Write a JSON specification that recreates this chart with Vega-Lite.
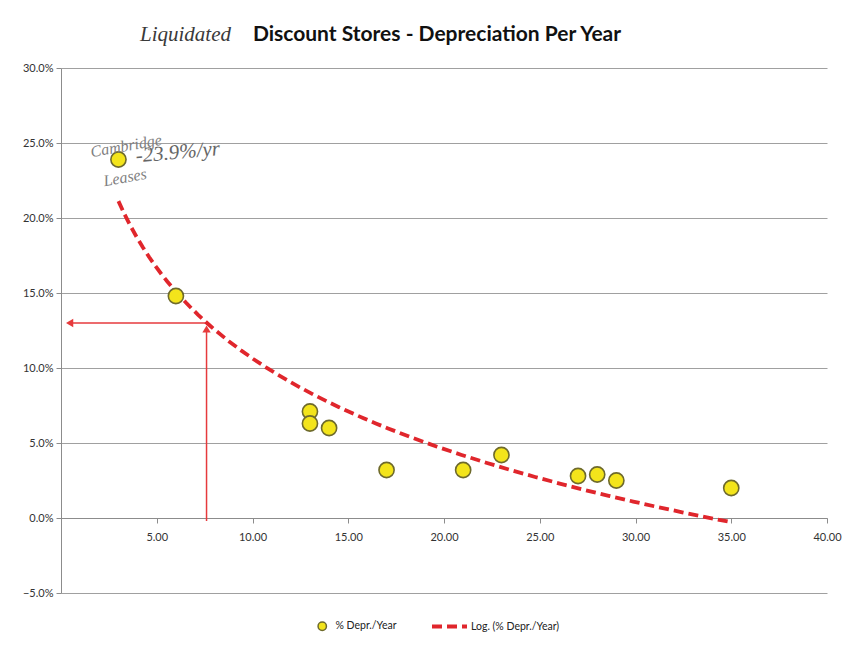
{
  "$schema": "https://vega.github.io/schema/vega-lite/v6.json",
  "width": 766,
  "height": 525,
  "autosize": "none",
  "padding": {"left": 61, "top": 68, "right": 19, "bottom": 57},
  "background": "white",
  "title": {
    "text": "Discount Stores - Depreciation Per Year",
    "font": "Lato",
    "fontSize": 21,
    "fontWeight": "bold",
    "color": "#111111",
    "anchor": "middle",
    "offset": 14,
    "dx": -7,
    "dy": 35
  },
  "datasets": {
    "stores": [
      {"age": 3, "depr": 0.239},
      {"age": 6, "depr": 0.148},
      {"age": 13, "depr": 0.071},
      {"age": 13, "depr": 0.063},
      {"age": 14, "depr": 0.060},
      {"age": 17, "depr": 0.032},
      {"age": 21, "depr": 0.032},
      {"age": 23, "depr": 0.042},
      {"age": 27, "depr": 0.028},
      {"age": 28, "depr": 0.029},
      {"age": 29, "depr": 0.025},
      {"age": 35, "depr": 0.020}
    ],
    "arrows": [
      {"age": 7.6, "depr": 0.13, "age2": 0.45, "depr2": 0.13, "tip": "left"},
      {"age": 7.6, "depr": -0.002, "age2": 7.6, "depr2": 0.126, "tip": "up"}
    ],
    "notes": [
      {"age": 6.5, "depr": 0.322, "text": "Liquidated", "kind": "title"},
      {"age": 3.4, "depr": 0.248, "text": "Cambridge", "kind": "point"},
      {"age": 6.1, "depr": 0.2435, "text": "-23.9%/yr", "kind": "big"},
      {"age": 3.35, "depr": 0.227, "text": "Leases", "kind": "point"}
    ]
  },
  "layer": [
    {
      "data": {"name": "arrows"},
      "mark": {"type": "rule", "color": "#e63a3c", "strokeWidth": 1.5},
      "encoding": {
        "x": {
          "field": "age",
          "type": "quantitative",
          "scale": {"domain": [0, 40], "nice": false, "zero": false},
          "axis": {
            "title": null,
            "values": [5, 10, 15, 20, 25, 30, 35, 40],
            "format": ".2f",
            "grid": false,
            "offset": -75,
            "tickSize": 5,
            "labelPadding": 8,
            "labelFlush": false
          }
        },
        "y": {
          "field": "depr",
          "type": "quantitative",
          "scale": {"domain": [-0.05, 0.30], "nice": false, "zero": false},
          "axis": {
            "title": null,
            "values": [-0.05, 0, 0.05, 0.1, 0.15, 0.2, 0.25, 0.3],
            "format": ".1%",
            "grid": true,
            "tickSize": 5,
            "labelPadding": 3
          }
        },
        "x2": {"field": "age2"},
        "y2": {"field": "depr2"}
      }
    },
    {
      "data": {"name": "arrows"},
      "transform": [{"filter": "datum.tip === 'left'"}],
      "mark": {"type": "point", "shape": "triangle-left", "filled": true, "color": "#e63a3c", "size": 70, "opacity": 1},
      "encoding": {
        "x": {"field": "age2", "type": "quantitative"},
        "y": {"field": "depr2", "type": "quantitative"}
      }
    },
    {
      "data": {"name": "arrows"},
      "transform": [{"filter": "datum.tip === 'up'"}],
      "mark": {"type": "point", "shape": "triangle-up", "filled": true, "color": "#e63a3c", "size": 70, "opacity": 1},
      "encoding": {
        "x": {"field": "age2", "type": "quantitative"},
        "y": {"field": "depr2", "type": "quantitative"}
      }
    },
    {
      "data": {"name": "stores"},
      "transform": [{"regression": "depr", "on": "age", "method": "log"}],
      "mark": {"type": "line", "color": "#e0262c", "strokeWidth": 3.8, "clip": false},
      "encoding": {
        "x": {"field": "age", "type": "quantitative"},
        "y": {"field": "depr", "type": "quantitative"},
        "strokeDash": {
          "datum": "Log. (% Depr./Year)",
          "scale": {"range": [[10, 5]]},
          "legend": {
            "orient": "none",
            "legendX": 369,
            "legendY": 539,
            "title": null,
            "direction": "horizontal",
            "symbolSize": 1225,
            "symbolStrokeWidth": 3.8,
            "labelOffset": 2,
            "labelFont": "Lato",
            "labelFontSize": 10.5,
            "labelColor": "#222222"
          }
        }
      }
    },
    {
      "data": {"name": "stores"},
      "mark": {"type": "point", "filled": true, "size": 230, "stroke": "#6e6a2c", "strokeWidth": 1.6, "opacity": 1},
      "encoding": {
        "x": {"field": "age", "type": "quantitative"},
        "y": {"field": "depr", "type": "quantitative"},
        "fill": {
          "datum": "% Depr./Year",
          "scale": {"range": ["#f3e41b"]},
          "legend": {
            "orient": "none",
            "legendX": 256,
            "legendY": 553,
            "title": null,
            "direction": "horizontal",
            "symbolSize": 70,
            "symbolStrokeWidth": 1.5,
            "labelOffset": 8,
            "labelFont": "Lato",
            "labelFontSize": 10.5,
            "labelColor": "#222222",
            "encode": {
              "symbols": {
                "enter": {
                  "fill": {"value": "#eef3a0"},
                  "stroke": {"value": "#7fb43a"}
                },
                "update": {
                  "fill": {"value": "#eef3a0"},
                  "stroke": {"value": "#7fb43a"}
                }
              }
            }
          }
        }
      }
    },
    {
      "data": {"name": "notes"},
      "transform": [{"filter": "datum.kind === 'title'"}],
      "mark": {"type": "text", "font": "Liberation Serif", "fontStyle": "italic", "fontSize": 21, "color": "#3a3a3a", "clip": false},
      "encoding": {
        "x": {"field": "age", "type": "quantitative"},
        "y": {"field": "depr", "type": "quantitative"},
        "text": {"field": "text"}
      }
    },
    {
      "data": {"name": "notes"},
      "transform": [{"filter": "datum.kind === 'point'"}],
      "mark": {"type": "text", "font": "Liberation Serif", "fontStyle": "italic", "fontSize": 16, "color": "#808080", "angle": 350},
      "encoding": {
        "x": {"field": "age", "type": "quantitative"},
        "y": {"field": "depr", "type": "quantitative"},
        "text": {"field": "text"}
      }
    },
    {
      "data": {"name": "notes"},
      "transform": [{"filter": "datum.kind === 'big'"}],
      "mark": {"type": "text", "font": "Liberation Serif", "fontStyle": "italic", "fontSize": 21, "color": "#666666", "angle": 355},
      "encoding": {
        "x": {"field": "age", "type": "quantitative"},
        "y": {"field": "depr", "type": "quantitative"},
        "text": {"field": "text"}
      }
    }
  ],
  "config": {
    "view": {"stroke": null},
    "axis": {
      "labelFont": "Lato",
      "labelFontSize": 11,
      "labelColor": "#333333",
      "domainColor": "#8c8c8c",
      "tickColor": "#8c8c8c",
      "gridColor": "#a0a0a0",
      "gridWidth": 1
    }
  }
}
